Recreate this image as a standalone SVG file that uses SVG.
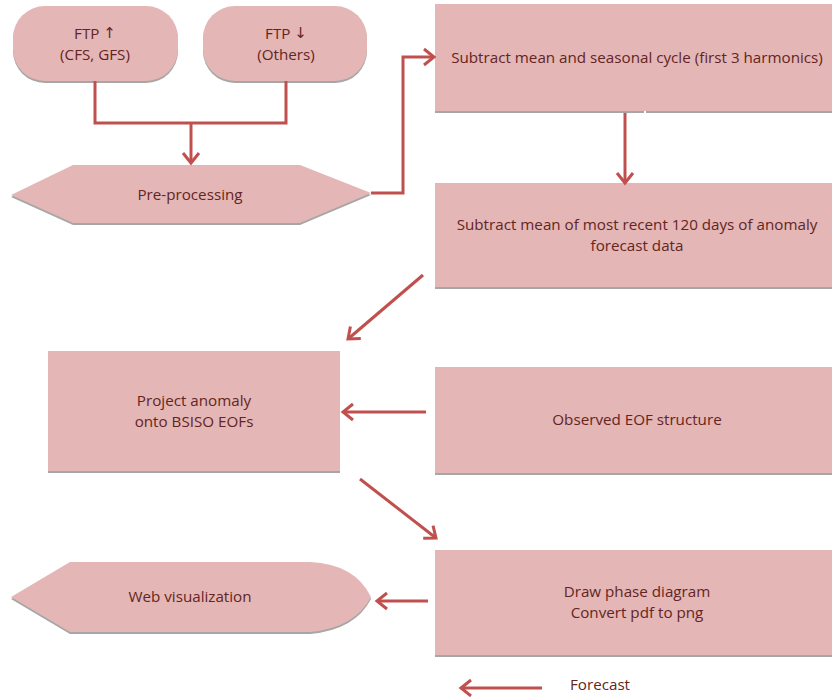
<svg xmlns="http://www.w3.org/2000/svg" width="832" height="697" viewBox="0 0 832 697">
<style>
.shape{fill:#e4b6b5}
.shadow{fill:#a6a6a6}
.t{font-family:"Open Sans","Liberation Sans",sans-serif;font-size:15.2px;fill:#632523;text-anchor:middle;dominant-baseline:central}
.ar{font-family:"DejaVu Sans",sans-serif;font-size:15px}
.c{fill:none;stroke:#c0504d;stroke-width:3}
</style>
<defs>
<marker id="ah" viewBox="0 0 20 20" refX="17" refY="10" markerWidth="20" markerHeight="20" markerUnits="userSpaceOnUse" orient="auto">
<path d="M7,2 L17,10 L7,18" fill="none" stroke="#c0504d" stroke-width="3"/>
</marker>
</defs>
<rect width="832" height="697" fill="#ffffff"/>

<g id="ftp-up">
<rect class="shadow" x="13" y="8" width="165" height="75" rx="32"/>
<rect class="shape" x="13" y="6" width="165" height="75" rx="32"/>
<text class="t" x="95" y="33">FTP <tspan class="ar">↑</tspan></text>
<text class="t" x="95" y="54">(CFS, GFS)</text>
</g>
<g id="ftp-down">
<rect class="shadow" x="203" y="8" width="164" height="75" rx="32"/>
<rect class="shape" x="203" y="6" width="164" height="75" rx="32"/>
<text class="t" x="286" y="33">FTP <tspan class="ar">↓</tspan></text>
<text class="t" x="286" y="54">(Others)</text>
</g>
<g id="preprocessing">
<polygon class="shadow" points="11,197 73,167 300,167 371,195 300,225 73,225"/>
<polygon class="shape" points="11,195 73,165 300,165 371,193 300,223 73,223"/>
<text class="t" x="190" y="194">Pre-processing</text>
</g>
<g id="subtract-seasonal">
<rect class="shadow" x="435" y="6" width="400" height="107"/>
<rect class="shape" x="435" y="4" width="400" height="107"/>
<rect x="644" y="111" width="2" height="2" fill="#ffffff"/>
<text class="t" x="637" y="57">Subtract mean and seasonal cycle (first 3 harmonics)</text>
</g>
<g id="subtract-recent">
<rect class="shadow" x="435" y="185" width="400" height="104"/>
<rect class="shape" x="435" y="183" width="400" height="104"/>
<text class="t" x="637" y="224">Subtract mean of most recent 120 days of anomaly</text>
<text class="t" x="637" y="245">forecast data</text>
</g>
<g id="project">
<rect class="shadow" x="48" y="353" width="292" height="120"/>
<rect class="shape" x="48" y="351" width="292" height="120"/>
<text class="t" x="194" y="400">Project anomaly</text>
<text class="t" x="194" y="421">onto BSISO EOFs</text>
</g>
<g id="observed-eof">
<rect class="shadow" x="435" y="369" width="400" height="106"/>
<rect class="shape" x="435" y="367" width="400" height="106"/>
<text class="t" x="637" y="419">Observed EOF structure</text>
</g>
<g id="draw-phase">
<rect class="shadow" x="435" y="552" width="400" height="105"/>
<rect class="shape" x="435" y="550" width="400" height="105"/>
<text class="t" x="637" y="591">Draw phase diagram</text>
<text class="t" x="637" y="612">Convert pdf to png</text>
</g>
<g id="web-vis">
<path class="shadow" d="M11,599 L70,564 L310,564 Q355,566 371,599 Q355,630 310,634 L70,634 Z"/>
<path class="shape" d="M11,597 L70,562 L310,562 Q355,564 371,597 Q355,628 310,632 L70,632 Z"/>
<text class="t" x="190" y="596">Web visualization</text>
</g>
<g id="legend">
<text class="t" x="600" y="684">Forecast</text>
</g>

<g id="connectors">
<polyline class="c" points="95,81 95,123 286,123 286,81"/>
<line class="c" x1="191" y1="123" x2="191" y2="163" marker-end="url(#ah)"/>
<polyline class="c" points="371,193 403,193 403,57 434,57" marker-end="url(#ah)"/>
<line class="c" x1="625" y1="113" x2="625" y2="183" marker-end="url(#ah)"/>
<line class="c" x1="423" y1="275" x2="348" y2="339" marker-end="url(#ah)"/>
<line class="c" x1="426" y1="412" x2="343" y2="412" marker-end="url(#ah)"/>
<line class="c" x1="360" y1="479" x2="436" y2="538" marker-end="url(#ah)"/>
<line class="c" x1="428" y1="601" x2="377" y2="601" marker-end="url(#ah)"/>
<line class="c" x1="542" y1="688" x2="461" y2="688" marker-end="url(#ah)"/>
</g>
</svg>
